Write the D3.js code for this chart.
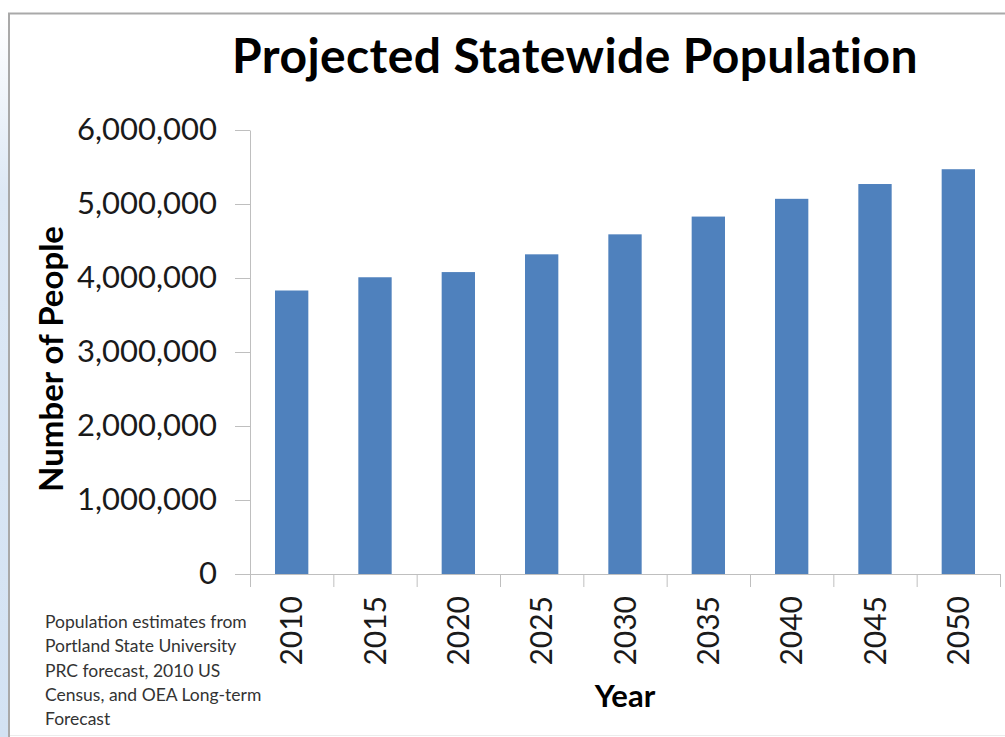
<!DOCTYPE html>
<html>
<head>
<meta charset="utf-8">
<script src="https://cdn.jsdelivr.net/npm/d3@7"></script>
<style>
  body { margin: 0; background: #fff; }
  svg { display: block; }
</style>
</head>
<body>
<div id="chart"></div>
<script>
// 数据
const years = ["2010", "2015", "2020", "2025", "2030", "2035", "2040", "2045", "2050"]
const population = [3831074, 4010000, 4080000, 4320000, 4590000, 4830000, 5070000, 5270000, 5470000]
const yTicks = [0, 1000000, 2000000, 3000000, 4000000, 5000000, 6000000]
const sourceNote = [
  "Population estimates from",
  "Portland State University",
  "PRC forecast, 2010 US",
  "Census, and OEA Long-term",
  "Forecast"
]

const Width = 1005, Height = 737
const margin = { top: 130, right: 5, bottom: 163, left: 250 }
const width = Width - margin.left - margin.right,
  height = Height - margin.top - margin.bottom

const font = "Lato, 'Open Sans', sans-serif"

const svg = d3.select("#chart").append("svg")
  .attr("width", Width)
  .attr("height", Height)

// 左侧浅蓝色条
const defs = svg.append("defs")
const grad = defs.append("linearGradient")
  .attr("id", "strip").attr("x1", 0).attr("y1", 0).attr("x2", 0).attr("y2", 1)
grad.append("stop").attr("offset", "0%").attr("stop-color", "#ffffff")
grad.append("stop").attr("offset", "25%").attr("stop-color", "#dde8f5")
grad.append("stop").attr("offset", "100%").attr("stop-color", "#d3e2f3")
svg.append("rect")
  .attr("x", 0).attr("y", 14).attr("width", 8).attr("height", Height - 14)
  .attr("fill", "url(#strip)")

// 边框
svg.append("line").attr("x1", 8).attr("x2", Width).attr("y1", 13.5).attr("y2", 13.5)
  .attr("stroke", "#a9a9a9").attr("stroke-width", 2)
svg.append("line").attr("x1", 9).attr("x2", 9).attr("y1", 13).attr("y2", Height)
  .attr("stroke", "#a9a9a9").attr("stroke-width", 2)
svg.append("line").attr("x1", 10).attr("x2", Width).attr("y1", 735.5).attr("y2", 735.5)
  .attr("stroke", "#ececec").attr("stroke-width", 1)

// 比例尺
const xScale = d3.scaleBand()
  .domain(years)
  .range([0, width])
  .paddingInner(0.6)
  .paddingOuter(0.3)

const yScale = d3.scaleLinear()
  .domain([0, 6000000])
  .range([height, 0])

const g = svg.append("g")
  .attr("transform", `translate(${margin.left},${margin.top})`)

// 柱子
g.selectAll("rect.bar")
  .data(years)
  .enter()
  .append("rect")
  .attr("class", "bar")
  .attr("x", d => xScale(d))
  .attr("y", (d, i) => yScale(population[i]))
  .attr("width", xScale.bandwidth())
  .attr("height", (d, i) => height - yScale(population[i]))
  .attr("fill", "#4f81bd")

// y 轴
const yAxis = d3.axisLeft(yScale)
  .tickValues(yTicks)
  .tickSizeInner(15)
  .tickSizeOuter(0)
  .tickPadding(18)
  .tickFormat(d3.format(","))

const yG = g.append("g").call(yAxis)
yG.select(".domain").attr("stroke", "#bfbfbf")
yG.selectAll(".tick line").attr("stroke", "#bfbfbf")
yG.selectAll(".tick text")
  .style("font-family", font)
  .style("font-size", "31px")
  .attr("fill", "#1a1a1a")

// x 轴
const xAxis = d3.axisBottom(xScale)
  .tickSize(0)
  .tickPadding(0)

const xG = g.append("g")
  .attr("transform", `translate(0,${height})`)
  .call(xAxis)
xG.select(".domain").attr("stroke", "#bfbfbf")
xG.selectAll(".tick text")
  .attr("transform", "rotate(-90)")
  .attr("x", -22)
  .attr("y", 0)
  .attr("dy", "0.36em")
  .attr("text-anchor", "end")
  .style("font-family", font)
  .style("font-size", "30px")
  .attr("fill", "#1a1a1a")

// 类别分隔刻度
const step = xScale.step()
xG.selectAll("line.sep")
  .data(d3.range(years.length + 1))
  .enter()
  .append("line")
  .attr("class", "sep")
  .attr("x1", i => i * step + 0.5)
  .attr("x2", i => i * step + 0.5)
  .attr("y1", 0)
  .attr("y2", 13)
  .attr("stroke", "#bfbfbf")

// 标题
svg.append("text")
  .attr("x", 575)
  .attr("y", 73)
  .attr("text-anchor", "middle")
  .style("font-family", font)
  .style("font-weight", "bold")
  .style("font-size", "48px")
  .style("letter-spacing", "0.4px")
  .attr("fill", "#000")
  .text("Projected Statewide Population")

// 轴标题
svg.append("text")
  .attr("transform", `translate(63,359) rotate(-90)`)
  .attr("text-anchor", "middle")
  .style("font-family", font)
  .style("font-weight", "bold")
  .style("font-size", "33px")
  .attr("fill", "#000")
  .text("Number of People")

svg.append("text")
  .attr("x", margin.left + width / 2)
  .attr("y", 707)
  .attr("text-anchor", "middle")
  .style("font-family", font)
  .style("font-weight", "bold")
  .style("font-size", "31px")
  .attr("fill", "#000")
  .text("Year")

// 数据来源说明
svg.append("g")
  .selectAll("text")
  .data(sourceNote)
  .enter()
  .append("text")
  .attr("x", 45)
  .attr("y", (d, i) => 628 + i * 24.3)
  .style("font-family", font)
  .style("font-size", "17.5px")
  .attr("fill", "#333")
  .text(d => d)
</script>
</body>
</html>
